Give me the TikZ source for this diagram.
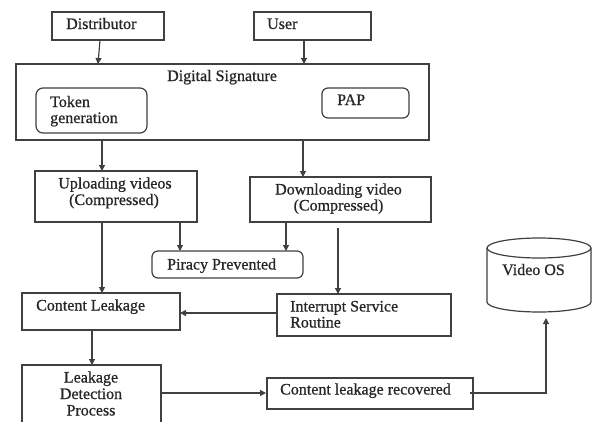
\documentclass[tikz,border=0pt]{standalone}
\usepackage{fontspec}
\setmainfont{Liberation Serif}[FakeBold=0.7]
\usetikzlibrary{arrows.meta,calc}
\begin{document}
\begin{tikzpicture}[x=1pt,y=-1pt,
  box/.style={draw=black!75,line width=1.2pt,rectangle,inner sep=0pt,outer sep=0pt},
  rbox/.style={box,rounded corners=7pt},
  txt/.style={inner sep=0pt,anchor=base west,font=\fontsize{16}{17}\selectfont,text=black!85},
  ctxt/.style={txt,anchor=base},
  arr/.style={draw=black!75,line width=1.2pt,-{Triangle[length=6pt,width=6pt]}},
  ln/.style={draw=black!75,line width=1.2pt}]
\useasboundingbox (0,0) rectangle (592,421);
\fill[white] (0,0) rectangle (592,421);

% boxes
\node[box,minimum width=112pt,minimum height=28pt] (dist) at (108,26) {};
\node[box,minimum width=117pt,minimum height=28pt] (user) at (312.5,26) {};
\node[box,minimum width=413pt,minimum height=76pt] (ds) at (222.5,102) {};
\node[rbox,minimum width=111pt,minimum height=45pt] (tok) at (91.5,110.5) {};
\node[rbox,rounded corners=6pt,minimum width=87pt,minimum height=30pt] (pap) at (365.5,103) {};
\node[box,minimum width=162pt,minimum height=51pt] (up) at (116,196.5) {};
\node[box,minimum width=181pt,minimum height=45pt] (down) at (340.5,199.5) {};
\node[rbox,rounded corners=6pt,minimum width=151pt,minimum height=27pt] (pir) at (227.5,264.5) {};
\node[box,minimum width=158pt,minimum height=37pt] (cl) at (101,311.5) {};
\node[box,minimum width=174pt,minimum height=42pt] (isr) at (364,315) {};
\node[box,minimum width=139pt,minimum height=75pt] (ldp) at (91.5,402.5) {};
\node[box,minimum width=206pt,minimum height=31pt] (clr) at (370,393.5) {};

% cylinder (Video OS)
\draw[ln] (539,248) ellipse [x radius=52pt, y radius=10pt];
\draw[ln] (487,248) -- (487,302) arc[start angle=180, end angle=360, x radius=52pt, y radius=10pt] -- (591,248);

% texts
\node[txt] (distT) at (66,29) {Distributor};
\node[txt] (userT) at (267,29) {User};
\node[txt] (dsT) at (167,81) {Digital Signature};
\node[txt] (tokT1) at (50,107) {Token};
\node[txt] (tokT2) at (50,123) {generation};
\node[txt] (papT) at (337,105) {PAP};
\node[ctxt] (upT1) at (115,188.5) {Uploading videos};
\node[ctxt] (upT2) at (114,205) {(Compressed)};
\node[ctxt] (downT1) at (338.5,194.5) {Downloading video};
\node[ctxt] (downT2) at (338.5,210.5) {(Compressed)};
\node[txt] (pirT) at (167,269.5) {Piracy Prevented};
\node[txt] (clT) at (36,310.5) {Content Leakage};
\node[txt] (isrT1) at (290,311.5) {Interrupt Service};
\node[txt] (isrT2) at (290,327.5) {Routine};
\node[ctxt] (ldpT1) at (91,382.5) {Leakage};
\node[ctxt] (ldpT2) at (91,399) {Detection};
\node[ctxt] (ldpT3) at (91,415.5) {Process};
\node[txt] (clrT) at (280,394.5) {Content leakage recovered};
\node[txt] (vos) at (502,275) {Video OS};

% helper coordinates
\coordinate (xa) at (102,0);
\coordinate (xb) at (303,0);
\coordinate (xc) at (180,0);
\coordinate (xd) at (286,0);
\coordinate (xe) at (338,228);
\coordinate (xf) at (92,0);
\coordinate (yg) at (0,313);
\coordinate (yh) at (0,393);
\coordinate (u1) at ($(user.south)+(-8.5,0)$);
\coordinate (d1) at ($(dist.south)+(-8,0)$);
\coordinate (d2) at ($(ds.north)+(-124.5,0)$);
\coordinate (vosb) at (546,318);

% connectors
\draw[arr] (d1) -- (d2);
\draw[arr] (u1) -- (u1 |- ds.north);
\draw[arr] (ds.south -| xa) -- (up.north -| xa);
\draw[arr] (ds.south -| xb) -- (down.north -| xb);
\draw[arr] (up.south -| xc) -- (pir.north -| xc);
\draw[arr] (down.south -| xd) -- (pir.north -| xd);
\draw[arr] (up.south -| xa) -- (cl.north -| xa);
\draw[arr] (xe) -- (isr.north -| xe);
\draw[arr] (isr.west |- yg) -- (cl.east |- yg);
\draw[arr] (cl.south -| xf) -- (ldp.north -| xf);
\draw[arr,shorten >=1pt] (ldp.east |- yh) -- (clr.west |- yh);
\draw[arr] ([xshift=-3pt]clr.east |- yh) -| (vosb);
\end{tikzpicture}
\end{document}
